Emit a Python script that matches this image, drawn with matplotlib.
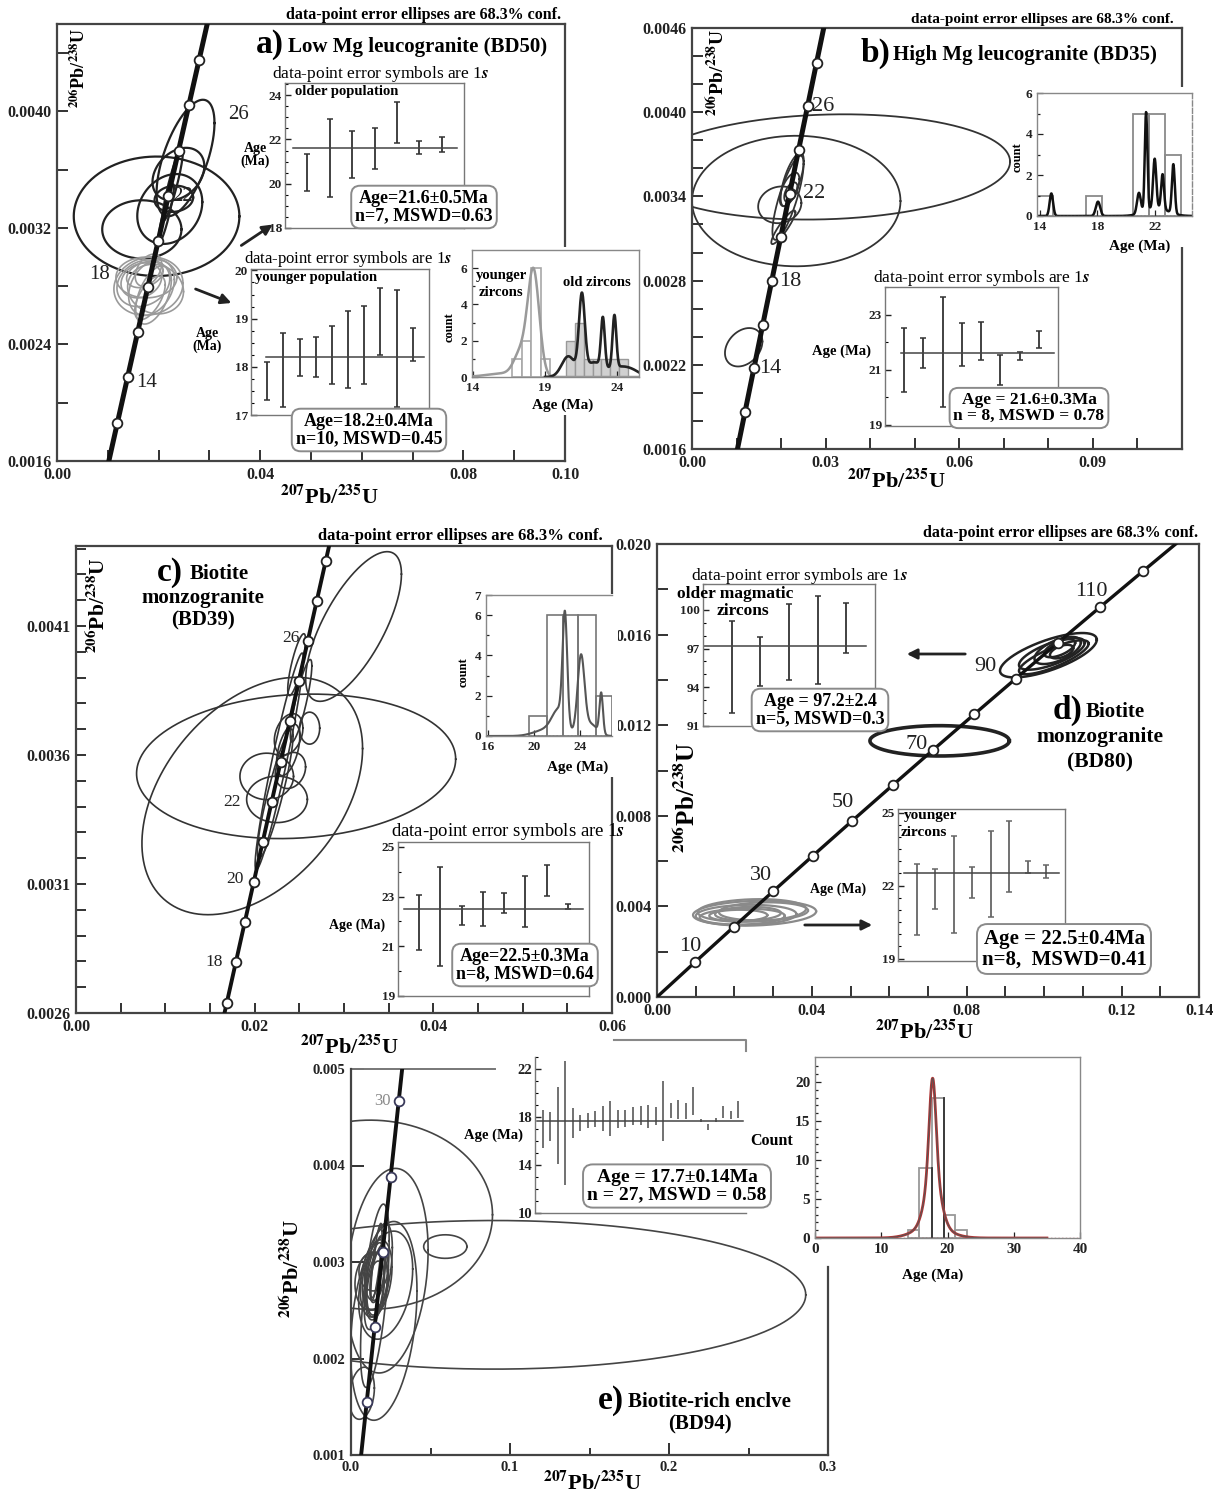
import numpy as np
import matplotlib
matplotlib.use('Agg')
import matplotlib.pyplot as plt
from matplotlib.patches import Rectangle, FancyArrowPatch
from matplotlib.lines import Line2D

plt.rcParams['font.family'] = ['Liberation Serif', 'DejaVu Serif']
plt.rcParams['font.weight'] = 'bold'
plt.rcParams['mathtext.fontset'] = 'stix'

# ------------------------------------------------------------------ data
# concordia marker ages (Ma)
A_MARKS = [12, 14, 16, 18, 20, 22, 24, 26, 28]
B_MARKS = [12, 14, 16, 18, 20, 22, 24, 26, 28]
C_MARKS = [17, 18, 19, 20, 21, 22, 23, 24, 25, 26, 27, 28]
D_MARKS = [10, 20, 30, 40, 50, 60, 70, 80, 90, 100, 110, 120]
E_MARKS = [10, 15, 20, 25, 30]

# error ellipses: (207Pb/235U, 206Pb/238U, half-extent x, half-extent y, rho)
A_ELL_OLD = [(0.0196, 0.00328, 0.0163, 0.00041, 0.0),
             (0.0167, 0.00319, 0.0078, 0.00020, 0.0),
             (0.0222, 0.00333, 0.0064, 0.00024, 0.2),
             (0.0253, 0.00368, 0.0057, 0.00040, 0.6),
             (0.0239, 0.00357, 0.0051, 0.00018, 0.3),
             (0.0230, 0.00340, 0.0038, 0.00009, 0.1),
             (0.0228, 0.00350, 0.0020, 0.00025, 0.9),
             (0.0215, 0.00330, 0.0015, 0.00020, 0.9)]
A_ELL_YOUNG = [(0.0180, 0.00280, 0.0068, 0.00020, 0.1),
               (0.0170, 0.00282, 0.0052, 0.00016, 0.2),
               (0.0186, 0.00279, 0.0045, 0.00019, 0.3),
               (0.0176, 0.00286, 0.0060, 0.00014, 0.0),
               (0.0190, 0.00274, 0.0035, 0.00020, 0.5),
               (0.0166, 0.00284, 0.0040, 0.00012, 0.2),
               (0.0180, 0.00291, 0.0026, 0.00011, 0.4),
               (0.0194, 0.00278, 0.0055, 0.00017, -0.1),
               (0.0183, 0.00272, 0.0030, 0.00015, 0.6),
               (0.0173, 0.00288, 0.0036, 0.00009, 0.3)]
B_ELL = [(0.0300, 0.00361, 0.0414, 0.000375, 0.1),
         (0.0234, 0.003367, 0.0234, 0.000465, 0.0),
         (0.0197, 0.00334, 0.00485, 0.000131, 0.1),
         (0.02155, 0.00339, 0.0035, 0.00030, 0.8),
         (0.0225, 0.00352, 0.0026, 0.00019, 0.7),
         (0.0219, 0.00345, 0.0022, 0.00012, 0.6),
         (0.0222, 0.00343, 0.0015, 0.00007, 0.5),
         (0.0205, 0.00318, 0.0027, 0.00012, 0.9),
         (0.0116, 0.002325, 0.0042, 0.000137, 0.3)]
C_ELL = [(0.02464, 0.003556, 0.01786, 0.00028, 0.1),
         (0.01973, 0.003441, 0.01235, 0.00046, 0.4),
         (0.03107, 0.004098, 0.00536, 0.00029, 0.7),
         (0.02135, 0.003517, 0.0030, 0.00009, 0.0),
         (0.0225, 0.003428, 0.0034, 0.00009, 0.0),
         (0.02615, 0.003704, 0.00113, 0.000062, 0.0),
         (0.02275, 0.003575, 0.0027, 0.00042, 0.95),
         (0.0247, 0.00395, 0.0010, 0.00012, 0.8),
         (0.02375, 0.00362, 0.0013, 0.00010, 0.5),
         (0.0238, 0.00368, 0.0016, 0.00008, 0.3),
         (0.0223, 0.00345, 0.0020, 0.00025, 0.9),
         (0.0252, 0.00381, 0.0012, 0.00016, 0.85),
         (0.0240, 0.00354, 0.0017, 0.00007, 0.2)]
D_ELL_OLD = [(0.1011, 0.01509, 0.0125, 0.00098, 0.7),
             (0.1020, 0.01515, 0.0085, 0.00070, 0.7),
             (0.1035, 0.01530, 0.0060, 0.00060, 0.6),
             (0.1040, 0.01540, 0.0040, 0.00040, 0.6),
             (0.1025, 0.01500, 0.0090, 0.00075, 0.8),
             (0.1045, 0.01525, 0.0030, 0.00030, 0.5)]
D_ELL_70 = [(0.073, 0.01131, 0.018, 0.00067, 0.0)]
D_ELL_YOUNG = [(0.0252, 0.00370, 0.0159, 0.00055, 0.15),
               (0.0230, 0.00362, 0.0130, 0.00045, 0.1),
               (0.0245, 0.00382, 0.0140, 0.00050, 0.15),
               (0.0220, 0.00355, 0.0110, 0.00035, 0.1),
               (0.0275, 0.00378, 0.0115, 0.00040, 0.1),
               (0.0235, 0.00368, 0.0085, 0.00030, 0.1),
               (0.0210, 0.00360, 0.0075, 0.00025, 0.05)]
E_ELL = [(0.090, 0.00266, 0.196, 0.00077, 0.0),
         (0.012, 0.00349, 0.077, 0.00098, 0.0),
         (0.0228, 0.00291, 0.0257, 0.00106, 0.2),
         (0.0206, 0.00239, 0.0209, 0.00103, 0.3),
         (0.0593, 0.00316, 0.0136, 0.000122, 0.0),
         (0.0218, 0.00276, 0.0170, 0.00056, 0.3),
         (0.0068, 0.00164, 0.0079, 0.00027, 0.2),
         (0.0150, 0.00265, 0.0090, 0.00095, 0.6),
         (0.0158, 0.00283, 0.0100, 0.00040, 0.3),
         (0.0150, 0.00280, 0.0080, 0.00030, 0.2),
         (0.0165, 0.00278, 0.0070, 0.00035, 0.4),
         (0.0145, 0.00285, 0.0060, 0.00025, 0.1),
         (0.0170, 0.00288, 0.0050, 0.00030, 0.6),
         (0.0155, 0.00273, 0.0055, 0.00028, 0.3),
         (0.0140, 0.00290, 0.0090, 0.00020, 0.0),
         (0.0160, 0.00295, 0.0040, 0.00032, 0.7),
         (0.0148, 0.00275, 0.0065, 0.00045, 0.5),
         (0.0175, 0.00290, 0.0085, 0.00050, 0.5),
         (0.0130, 0.00280, 0.0105, 0.00030, 0.1),
         (0.0160, 0.00300, 0.0035, 0.00040, 0.8)]

# weighted-mean age insets (age, 1s error, Ma)
A1_AGE = [20.5, 21.15, 21.33, 21.59, 22.76, 21.63, 21.77]
A1_ERR = [0.85, 1.76, 1.05, 0.94, 0.94, 0.30, 0.35]
A1_MEAN = 21.6
A2_AGE = [17.70, 17.93, 18.19, 18.20, 18.24, 18.35, 18.45, 18.94, 18.38, 18.46]
A2_ERR = [0.39, 0.77, 0.38, 0.41, 0.60, 0.80, 0.81, 0.70, 1.21, 0.34]
A2_MEAN = 18.2
B_AGE = [21.35, 21.59, 21.64, 21.91, 22.04, 20.99, 21.50, 22.09]
B_ERR = [1.15, 0.54, 2.00, 0.77, 0.69, 0.54, 0.15, 0.32]
B_MEAN = 21.6
C_AGE = [21.95, 22.2, 22.25, 22.5, 22.75, 22.8, 23.65, 22.6]
C_ERR = [1.11, 2.0, 0.38, 0.7, 0.41, 1.03, 0.63, 0.09]
C_MEAN = 22.5
D1_AGE = [95.6, 96.0, 97.5, 97.65, 98.6]
D1_ERR = [3.56, 1.9, 2.97, 3.4, 1.94]
D1_MEAN = 97.2
D2_AGE = [21.43, 21.87, 22.06, 22.14, 22.46, 23.19, 22.76, 22.57]
D2_ERR = [1.47, 0.83, 1.99, 0.63, 1.77, 1.47, 0.26, 0.27]
D2_MEAN = 22.5
E_AGE = [17.0, 17.2, 17.3, 17.5, 17.51, 17.48, 17.7, 17.85, 17.85, 17.85, 17.85, 17.9, 18.05, 18.1,
         18.05, 18.05, 18.5, 18.55, 18.6, 18.5, 19.35, 17.7, 17.15, 17.75, 18.4, 18.15, 18.6]
E_ERR = [1.6, 1.2, 3.2, 5.2, 1.26, 0.68, 0.6, 0.65, 1.05, 1.45, 0.75, 0.7, 0.75, 0.8,
         0.95, 0.75, 2.5, 0.65, 0.8, 0.7, 1.15, 0.1, 0.25, 0.15, 0.5, 0.35, 0.7]
E_MEAN = 17.7

# histograms (bin edges, counts) and probability-density components (age, height, sigma)
A_HY_EDGES = [16.75, 17.4, 18.05, 18.7, 19.35]
A_HY_COUNTS = [1, 2, 6, 1]
A_HO_EDGES = [20.44, 21.06, 21.7, 22.29, 22.87, 23.5, 24.14, 24.77]
A_HO_COUNTS = [2, 3, 1, 1, 1, 1, 1]
A_PDF_YOUNG = [(18.2, 5.8, 0.4), (17.3, 1.2, 0.45), (16.2, 0.2, 1.2)]
A_PDF_OLD = [(20.6, 1.1, 0.45), (21.55, 4.2, 0.2), (22.3, 0.4, 0.5), (23.0, 2.7, 0.13),
             (23.8, 2.9, 0.13), (24.4, 0.4, 0.6), (25.2, 0.2, 0.5), (22.8, 0.45, 1.0)]
B_H_LEFT = [13.8, 17.2, 20.5, 21.6, 22.7]
B_H_RIGHT = [14.94, 18.3, 21.6, 22.7, 23.8]
B_H_COUNTS = [1, 1, 5, 5, 3]
B_PDF = [(14.8, 1.1, 0.12), (18.05, 0.7, 0.15), (20.9, 1.0, 0.13), (21.4, 4.8, 0.09),
         (22.0, 2.4, 0.11), (22.55, 1.7, 0.1), (23.3, 2.4, 0.1), (22.1, 0.4, 0.8)]
C_H_EDGES = [19.55, 21.1, 22.5, 23.85, 25.4, 26.8]
C_H_COUNTS = [1, 6, 6, 6, 2]
C_PDF = [(22.7, 5.3, 0.2), (22.2, 1.2, 0.6), (24.1, 3.8, 0.3), (25.86, 2.0, 0.15),
         (21.0, 0.3, 1.0), (24.9, 0.6, 0.6)]
E_H_EDGES = [14.1, 15.7, 17.6, 19.4, 21.1, 22.9]
E_H_COUNTS = [1, 9, 18, 3, 1]
E_PDF = [(17.75, 12.0, 0.5), (17.8, 7.0, 1.1), (17.6, 1.5, 2.5)]

# ------------------------------------------------------------------ helpers
W, H = 1213, 1495
fig = plt.figure(figsize=(W / 100, H / 100), dpi=100)
fig.patch.set_facecolor('white')

LAM238, LAM235 = 1.55125e-10, 9.8485e-10


def conc(t):
    t = np.asarray(t, float) * 1e6
    return np.exp(LAM235 * t) - 1, np.exp(LAM238 * t) - 1


def fx(x):
    return x / W


def fy(y):
    return 1 - y / H


def add_ax(x0, y0, x1, y1, z=0):
    ax = fig.add_axes([x0 / W, 1 - y1 / H, (x1 - x0) / W, (y1 - y0) / H])
    ax.set_zorder(z)
    ax.set_facecolor('white')
    return ax


def ft(x, y, s, **kw):
    kw.setdefault('va', 'center')
    kw.setdefault('zorder', 4)
    return fig.text(x / W, 1 - y / H, s, **kw)


def fline(xs, ys, **kw):
    fig.add_artist(Line2D([fx(x) for x in xs], [fy(y) for y in ys],
                          transform=fig.transFigure, zorder=3, **kw))


def cover(x0, y0, x1, y1):
    fig.add_artist(Rectangle((fx(x0), fy(y1)), (x1 - x0) / W, (y1 - y0) / H,
                             transform=fig.transFigure, fc='white', ec='none', zorder=1))


def arrow(p0, p1):
    fig.add_artist(FancyArrowPatch((fx(p0[0]), fy(p0[1])), (fx(p1[0]), fy(p1[1])),
                                   transform=fig.transFigure, arrowstyle='-|>',
                                   mutation_scale=15, lw=2.0, color='#222', zorder=3))


def ell(ax, e, **kw):
    cx, cy, ex, ey, r = e
    t = np.linspace(0, 2 * np.pi, 400)
    ax.plot(cx + ex * np.cos(t), cy + ey * (r * np.cos(t) + np.sqrt(1 - r * r) * np.sin(t)), **kw)


def set_ticks(ax, which, vals, labeled, fmt):
    labs = [fmt.format(v) if any(abs(v - l) < 1e-9 for l in labeled) else '' for v in vals]
    if which == 'x':
        ax.set_xticks(vals)
        ax.set_xticklabels(labs)
    else:
        ax.set_yticks(vals)
        ax.set_yticklabels(labs)


def style_main(ax, size=11.5, length=8):
    for s in ax.spines.values():
        s.set_linewidth(1.6)
        s.set_color('#444')
    ax.tick_params(which='both', direction='in', length=length, width=1.3,
                   labelsize=size, pad=4, colors='#222')
    ax.tick_params(which='minor', length=length * 0.6)


def concordia(ax, t0, t1, marks, lw=3.2, ms=7, mec='#222'):
    t = np.linspace(t0, t1, 500)
    x, y = conc(t)
    ax.plot(x, y, color='#111', lw=lw, zorder=4, solid_capstyle='butt')
    mx, my = conc(marks)
    ax.plot(mx, my, 'o', ms=ms, mfc='white', mec=mec, mew=1.3, zorder=5)


def clabel(ax, age, dx, dy, size, ha='left', color='#222'):
    x, y = conc(age)
    ax.annotate(str(age), xy=(float(x), float(y)), xytext=(dx, dy), textcoords='offset points',
                ha=ha, va='center', fontsize=size, fontweight='normal', color=color, zorder=6)


def age_inset(box, xlim, ylim, ages, errs, mean, mean_x, ymaj, ymin, color='#333', caps=2, lsize=9.5):
    ax = add_ax(*box, z=2)
    ax.set_xlim(xlim)
    ax.set_ylim(ylim)
    xs = np.arange(1, len(ages) + 1)
    ax.errorbar(xs, ages, yerr=errs, fmt='none', ecolor=color, elinewidth=1.3,
                capsize=caps, capthick=1.1)
    ax.plot(mean_x, [mean, mean], color='#444', lw=1.1)
    ax.set_xticks([])
    ax.set_yticks(ymaj)
    ax.set_yticks(ymin, minor=True)
    ax.tick_params(axis='y', direction='in', length=4, width=1, labelsize=lsize, pad=2, colors='#222')
    ax.tick_params(axis='y', which='minor', direction='in', length=2.5, width=0.8)
    for s in ax.spines.values():
        s.set_linewidth(1.0)
        s.set_color('#777')
    return ax


def hist_ax(box, xlim, ylim, xt, yt, ytm, lsize=9.5):
    ax = add_ax(*box, z=2)
    ax.set_xlim(xlim)
    ax.set_ylim(ylim)
    ax.set_xticks(xt)
    ax.set_yticks(yt)
    ax.set_yticks(ytm, minor=True)
    ax.tick_params(which='both', direction='in', length=4, width=0.9, labelsize=lsize, pad=3.5, colors='#222')
    ax.tick_params(which='minor', length=2.5)
    for s in ax.spines.values():
        s.set_linewidth(1.0)
        s.set_color('#888')
    return ax


def pdf(x, comps):
    return sum(h * np.exp(-0.5 * ((x - c) / s) ** 2) for c, h, s in comps)


def agebox(xc, yc, s, size):
    ft(xc, yc, s, ha='center', size=size, linespacing=1.05,
       bbox=dict(boxstyle='round,pad=0.22,rounding_size=0.5', fc='white', ec='#8a8a8a', lw=1.4))


def title(xr, xt, y, letter, text, size=15):
    ft(xr, y - 2, letter, size=24, ha='right')
    ft(xt, y, text, size=size, ha='left')


ERRTXT = 'data-point error symbols are 1$\\mathit{s}$'
ELLTXT = 'data-point error ellipses are 68.3% conf.'
XLAB = r'$^{\mathbf{207}}$Pb/$^{\mathbf{235}}$U'
YLAB = r'$^{\mathbf{206}}$Pb/$^{\mathbf{238}}$U'

# ------------------------------------------------------------------ panel a
axa = add_ax(57, 24, 565, 461)
axa.set_xlim(0, 0.1)
axa.set_ylim(0.0016, 0.0046)
set_ticks(axa, 'x', np.arange(0, 0.1001, 0.01), [0, 0.04, 0.08, 0.10], '{:.2f}')
set_ticks(axa, 'y', np.arange(0.0016, 0.00461, 0.0004), [0.0016, 0.0024, 0.0032, 0.0040], '{:.4f}')
style_main(axa)
for e in A_ELL_OLD:
    ell(axa, e, color='#222', lw=1.6)
for e in A_ELL_YOUNG:
    ell(axa, e, color='#9a9a9a', lw=1.2)
concordia(axa, 9, 31, A_MARKS, lw=3.6)
clabel(axa, 26, 28, -6.5, 15)
clabel(axa, 22, 3, 0, 15)
clabel(axa, 18, -27, 9, 15, ha='right')
clabel(axa, 14, 6, -4, 15)
ft(286, 15, ELLTXT, size=11.5)
title(284, 288, 47, 'a)', 'Low Mg leucogranite (BD50)')
ft(79, 68, YLAB, rotation=90, ha='center', size=13)
ft(330, 497, XLAB, ha='center', size=16)
cover(559, 247, 571, 415)

a1 = age_inset((285, 83, 464, 228), (0, 8), (18, 24.55), A1_AGE, A1_ERR, A1_MEAN, [0.35, 7.7],
               [18, 20, 22, 24], np.arange(18, 24.6, 0.5))
ft(272, 74, ERRTXT, size=12.5, fontweight='normal')
ft(295, 92, 'older population', size=10.5)
ft(255, 155, 'Age\n(Ma)', ha='center', size=10, linespacing=1.0)
agebox(424, 207, 'Age=21.6±0.5Ma\nn=7, MSWD=0.63', 13)
arrow((239, 247), (275, 223))

a2 = age_inset((251, 269, 429, 415), (0, 11), (17, 20.03), A2_AGE, A2_ERR, A2_MEAN, [0.95, 10.7],
               [17, 18, 19, 20], np.arange(17, 20.01, 0.25))
ft(244, 259, ERRTXT, size=12, fontweight='normal')
ft(255, 277, 'younger population', size=10.5)
ft(207, 340, 'Age\n(Ma)', ha='center', size=10, linespacing=1.0)
agebox(369, 430, 'Age=18.2±0.4Ma\nn=10, MSWD=0.45', 13)
arrow((193, 288), (234, 304))

a3 = hist_ax((472, 250, 639, 377), (13.95, 25.5), (0, 7), [14, 19, 24], [0, 2, 4, 6], [1, 3, 5])
a3.bar(A_HY_EDGES[:-1], A_HY_COUNTS, width=np.diff(A_HY_EDGES), align='edge', fc='white', ec='#a8a8a8', lw=1.2)
a3.bar(A_HO_EDGES[:-1], A_HO_COUNTS, width=np.diff(A_HO_EDGES), align='edge', fc='#d0d0d0', ec='#999', lw=1.0)
xx = np.linspace(13.95, 25.5, 600)
a3.plot(xx, pdf(xx, A_PDF_YOUNG), color='#9a9a9a', lw=1.8)
xo = np.linspace(19.0, 25.5, 400)
a3.plot(xo, pdf(xo, A_PDF_OLD), color='#222', lw=1.9)
ft(476, 275, 'younger', size=10.5)
ft(479, 292, 'zircons', size=10.5)
ft(563, 282, 'old zircons', size=10.5)
ft(450, 327, 'count', rotation=90, ha='center', size=9)
ft(563, 405, 'Age (Ma)', ha='center', size=11)

# ------------------------------------------------------------------ panel b
axb = add_ax(692, 28, 1182, 449)
axb.set_xlim(0, 0.11)
axb.set_ylim(0.0016, 0.0046)
set_ticks(axb, 'x', np.arange(0, 0.1101, 0.01), [0, 0.03, 0.06, 0.09], '{:.2f}')
set_ticks(axb, 'y', np.arange(0.0016, 0.00461, 0.0002), [0.0016, 0.0022, 0.0028, 0.0034, 0.0040, 0.0046], '{:.4f}')
style_main(axb)
for e in B_ELL:
    ell(axb, e, color='#333', lw=1.3)
concordia(axb, 9, 31, B_MARKS, lw=3.6)
for age, dx in [(26, 3), (22, 10), (18, 5), (14, 4)]:
    clabel(axb, age, dx, 0, 16)
ft(911, 20, ELLTXT, size=11)
title(890, 893, 55, 'b)', 'High Mg leucogranite (BD35)')
ft(717, 72, YLAB, rotation=90, ha='center', size=14)
ft(897, 481, XLAB, ha='center', size=16)
cover(1176, 87, 1188, 247)

b1 = hist_ax((1037, 93, 1192, 216), (13.8, 24.6), (0, 6), [14, 18, 22], [0, 2, 4, 6], [1, 3, 5])
b1.bar(B_H_LEFT, B_H_COUNTS, width=np.array(B_H_RIGHT) - np.array(B_H_LEFT), align='edge',
       fc='none', ec='#8a8a8a', lw=1.3)
xb = np.linspace(13.8, 24.6, 800)
b1.plot(xb, pdf(xb, B_PDF), color='#111', lw=1.8)
b1.axhline(0, color='#555', lw=1.0, ls=':')
b1.spines['right'].set_linestyle('--')
ft(1018, 157, 'count', rotation=90, ha='center', size=9)
ft(1140, 246, 'Age (Ma)', ha='center', size=11)

b2 = age_inset((885, 287, 1058, 426), (0, 9), (18.95, 24), B_AGE, B_ERR, B_MEAN, [0.85, 8.77],
               [19, 21, 23], [20, 22, 24])
ft(873, 278, ERRTXT, size=12.5, fontweight='normal')
ft(842, 351, 'Age (Ma)', ha='center', size=10.5)
agebox(1029, 408, 'Age = 21.6±0.3Ma\nn = 8, MSWD = 0.78', 12.5)

# ------------------------------------------------------------------ panel c
axc = add_ax(76, 546, 612, 1013)
axc.set_xlim(0, 0.06)
axc.set_ylim(0.0026, 0.00441)
set_ticks(axc, 'x', np.arange(0, 0.0601, 0.005), [0, 0.02, 0.04, 0.06], '{:.2f}')
set_ticks(axc, 'y', np.arange(0.0026, 0.00441, 0.0001), [0.0026, 0.0031, 0.0036, 0.0041], '{:.4f}')
style_main(axc, length=7)
for e in C_ELL:
    ell(axc, e, color='#333', lw=1.2)
concordia(axc, 16, 30, C_MARKS, lw=2.8)
clabel(axc, 26, -6, 2, 12.5, ha='right')
clabel(axc, 22, -22, 0, 12.5, ha='right')
clabel(axc, 20, -7, 2, 12.5, ha='right')
clabel(axc, 18, -9, 0, 12.5, ha='right')
ft(318, 536, ELLTXT, size=12)
title(183, 190, 574, 'c)', 'Biotite')
ft(203, 598, 'monzogranite', ha='center', size=15)
ft(203, 620, '(BD39)', ha='center', size=15)
ft(98, 605, YLAB, rotation=90, ha='center', size=15.5)
ft(350, 1047, XLAB, ha='center', size=16)
cover(606, 594, 618, 777)

c1 = hist_ax((486, 595, 612, 736), (15.83, 26.8), (0, 7), [16, 20, 24], [0, 2, 4, 6, 7], [1, 3, 5])
c1.bar(C_H_EDGES[:-1], C_H_COUNTS, width=np.diff(C_H_EDGES), align='edge', fc='none', ec='#777', lw=1.2)
xc = np.linspace(15.83, 26.8, 600)
c1.plot(xc, pdf(xc, C_PDF), color='#555', lw=1.5)
c1.axhline(0, color='#555', lw=1.0, ls=':')
c1.spines['right'].set_visible(False)
ft(464, 672, 'count', rotation=90, ha='center', size=9)
ft(578, 767, 'Age (Ma)', ha='center', size=11)

c2 = age_inset((398, 842, 589, 996), (0, 9), (19, 25.2), C_AGE, C_ERR, C_MEAN, [0.28, 8.7],
               [19, 21, 23, 25], [20, 22, 24])
ft(391, 831, ERRTXT, size=13.5, fontweight='normal')
ft(357, 925, 'Age (Ma)', ha='center', size=10)
agebox(525, 965, 'Age=22.5±0.3Ma\nn=8, MSWD=0.64', 13)

# ------------------------------------------------------------------ panel d
axd = add_ax(657, 544, 1199, 997)
axd.set_xlim(0, 0.14)
axd.set_ylim(0, 0.020)
set_ticks(axd, 'x', np.arange(0, 0.1401, 0.01), [0, 0.04, 0.08, 0.12, 0.14], '{:.2f}')
set_ticks(axd, 'y', np.arange(0, 0.02001, 0.002), [0, 0.004, 0.008, 0.012, 0.016, 0.020], '{:.3f}')
style_main(axd)
for e in D_ELL_YOUNG:
    ell(axd, e, color='#8a8a8a', lw=1.6)
for e in D_ELL_OLD:
    ell(axd, e, color='#222', lw=1.8)
for e in D_ELL_70:
    ell(axd, e, color='#222', lw=2.6)
concordia(axd, 0, 130, D_MARKS, lw=2.4)
for age, dx, dy in [(10, -4, 11), (30, -9, 11.5), (50, -7, 12.7), (70, -12, 4), (90, -22, 9), (110, -6.5, 11)]:
    clabel(axd, age, dx, dy, 16, ha='center')
ft(923, 533, ELLTXT, size=11.5)
title(1082, 1086, 712, 'd)', 'Biotite', size=15)
ft(1100, 737, 'monzogranite', ha='center', size=15.5)
ft(1100, 762, '(BD80)', ha='center', size=15.5)
ft(687, 797, YLAB, rotation=90, ha='center', size=18)
ft(925, 1032, XLAB, ha='center', size=16)
arrow((968, 654), (904, 654))
arrow((802, 925), (875, 925))

d1 = age_inset((703, 584, 875, 726), (0, 6), (91, 102), D1_AGE, D1_ERR, D1_MEAN, [0.03, 5.7],
               [91, 94, 97, 100], np.arange(91, 102.1, 1.0))
ft(691, 576, ERRTXT, size=12.5, fontweight='normal')
ft(677, 594, 'older magmatic', size=12.5)
ft(717, 611, 'zircons', size=12.5)
agebox(820, 710, 'Age = 97.2±2.4\nn=5, MSWD=0.3', 13)

d2 = age_inset((898, 809, 1065, 961), (0, 9), (18.9, 25.15), D2_AGE, D2_ERR, D2_MEAN, [0.35, 8.7],
               [19, 22, 25], np.arange(19, 25.1, 0.5), color='#666', caps=2.5)
ft(904, 816, 'younger', size=11)
ft(901, 833, 'zircons', size=11)
ft(838, 889, 'Age (Ma)', ha='center', size=10)
agebox(1064, 949, 'Age = 22.5±0.4Ma\nn=8,  MSWD=0.41', 15)

# ------------------------------------------------------------------ panel e
axe = add_ax(351, 1069, 828, 1455)
axe.set_xlim(0, 0.3)
axe.set_ylim(0.001, 0.005)
axe.set_xticks([0, 0.1, 0.2, 0.3])
axe.set_xticklabels(['0.0', '0.1', '0.2', '0.3'])
axe.set_xticks([0.05, 0.15, 0.25], minor=True)
axe.set_yticks([0.001, 0.002, 0.003, 0.004, 0.005])
axe.set_yticklabels(['0.001', '0.002', '0.003', '0.004', '0.005'])
style_main(axe, size=10.5, length=9)
axe.spines['top'].set_visible(False)
axe.spines['right'].set_visible(False)
axe.plot([0, 0.302], [1, 1], transform=axe.transAxes, color='#777', lw=1.4, clip_on=False)
axe.plot([1, 1], [0, 0.487], transform=axe.transAxes, color='#444', lw=1.6, clip_on=False)
for e in E_ELL:
    ell(axe, e, color='#444', lw=1.2)
concordia(axe, 5, 34, E_MARKS, lw=2.8, mec='#3a3a5a')
clabel(axe, 30, -6, 0, 12, ha='right', color='#8a8a8a')
title(624, 628, 1402, 'e)', 'Biotite-rich enclve')
ft(700, 1424, '(BD94)', ha='center', size=15)
ft(292, 1268, YLAB, rotation=90, ha='center', size=16)
ft(593, 1483, XLAB, ha='center', size=16)

e1 = age_inset((535, 1057, 746, 1213), (0, 28), (10, 23), E_AGE, E_ERR, E_MEAN, [0.3, 27.6],
               [10, 14, 18, 22], np.arange(10, 23.1, 1.0), color='#666', caps=0, lsize=10.5)
e1.spines['top'].set_visible(False)
e1.spines['right'].set_visible(False)
fline([614, 746, 746], [1040, 1040, 1051], color='#888', lw=1.5)
ft(493, 1135, 'Age (Ma)', ha='center', size=10.5)
agebox(677, 1186, 'Age = 17.7±0.14Ma\nn = 27, MSWD = 0.58', 14)
ft(772, 1141, 'Count', ha='center', size=11.5)

e2 = hist_ax((815, 1057, 1080, 1238), (0, 40), (0, 23.2), [0, 10, 20, 30, 40], [0, 5, 10, 15, 20],
             np.arange(0, 23, 1.0), lsize=11)
e2.bar(E_H_EDGES[:-1], E_H_COUNTS, width=np.diff(E_H_EDGES), align='edge', fc='none', ec='#999', lw=1.3)
e2.plot([17.6, 17.6], [0, 9], color='#333', lw=1.3)
e2.plot([19.4, 19.4], [0, 18], color='#333', lw=1.3)
xe = np.linspace(0, 35, 800)
e2.plot(xe, pdf(xe, E_PDF), color='#b03434', lw=2.0)
e2.plot(xe, pdf(xe, E_PDF), color='#555', lw=0.7)
e2.axhline(0, color='#b03434', lw=1.0, ls=':')
ft(933, 1275, 'Age (Ma)', ha='center', size=11)

fig.savefig('out.png', dpi=100, facecolor='white')
